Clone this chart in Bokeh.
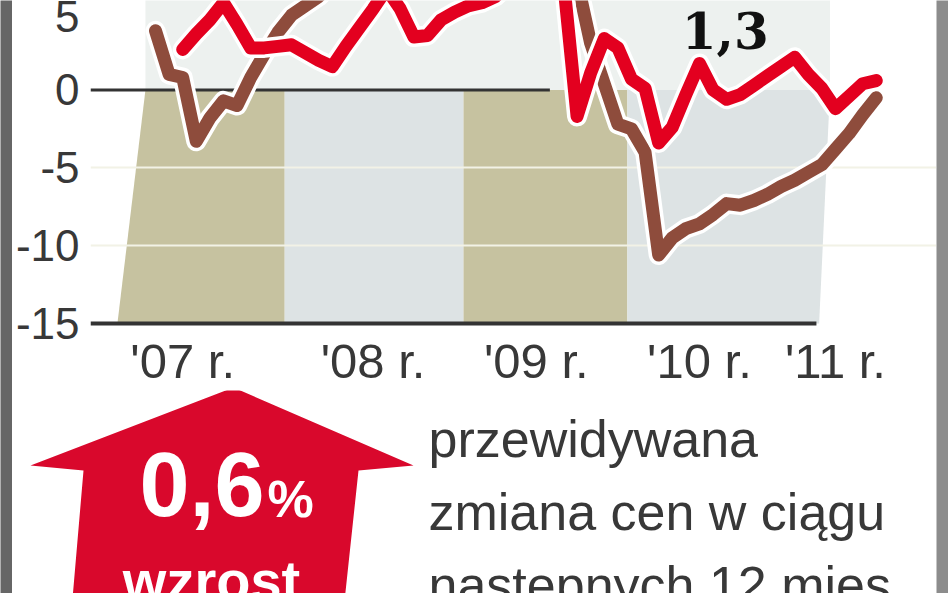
from bokeh.plotting import figure
from bokeh.models import Range1d, FixedTicker
from bokeh.layouts import column, row
from bokeh.embed import file_html
from bokeh.resources import INLINE
from bokeh.core.properties import value

NAN = float("nan")

# ---------------- data ----------------
months = list(range(54))  # monthly index, Jan 2007 = 0
series_brown = [3.8, 1.0, 0.8, -3.3, -1.8, -0.7, -1.0, 0.8, 2.3, 3.7, 4.8, 5.4, 6.0, 6.8,
                7.5, 8.0, 9.0, 8.5, 9.5, 10.0, 9.0, 10.5, 11.0, 10.0, 9.5, 10.0, 11.0, 10.5, 10.0, 9.5,
                9.0, 7.0, 3.0, 0.4, -2.2, -2.5, -4.0, -10.6, -9.5, -8.9, -8.6, -8.0, -7.3, -7.4,
                -7.1, -6.7, -6.2, -5.8, -5.3, -4.8, -3.8, -2.8, -1.6, -0.5]
series_red = [NAN, NAN, 2.6, 3.6, 4.5, 5.6, 4.2, 2.7, 2.7, 2.8, 2.9, 2.4, 1.9, 1.5,
              2.8, 4.0, 5.2, 6.5, 5.2, 3.4, 3.5, 4.5, 5.0, 5.4, 5.6, 6.0, 6.8, 7.5, 8.0, 8.5,
              7.0, -1.7, 1.1, 3.3, 2.7, 0.7, 0.1, -3.4, -2.4, -0.3, 1.7, 0.0, -0.6, -0.3,
              0.3, 0.9, 1.5, 2.1, 1.0, 0.1, -1.2, -0.4, 0.4, 0.6]
y_ticks = [-15, -10, -5, 0, 5]
y_tick_labels = ["-15", "-10", "-5", "0", "5"]
y_grid = [-10, -5]
x_tick_pos = [2, 16, 28, 40, 50]
x_tick_labels = ["'07 r.", "'08 r.", "'09 r.", "'10 r.", "'11 r."]
last_label = "1,3"
forecast_value = "0,6"
forecast_unit = "%"
forecast_word = "wzrost"
caption_lines = ["przewidywana", "zmiana cen w ciągu", "następnych 12 mies."]

# year columns of the background (bottom edge / top edge, in months)
col_left_bottom = [-2.8, 9.5, 22.65, 34.7]
col_left_top = [-0.74, 9.5, 22.65, 34.7]
col_right_bottom = [9.5, 22.65, 34.7, 48.8]
col_right_top = [9.5, 22.65, 34.7, 49.6]

KHAKI = "#c6c2a0"
LIGHT = "#dde3e4"
RED = "#e3001f"
BROWN = "#8e4c3c"
TEXT = "#383838"
SANS = "Liberation Sans"

# ---------------- top chart ----------------
X0, X1 = -4.78, 57.43
p1 = figure(width=924, height=390, x_range=Range1d(X0, X1), y_range=Range1d(-15.32, 5.745),
            output_backend="svg", toolbar_location=None,
            min_border_left=78, min_border_right=0, min_border_top=0, min_border_bottom=60,
            background_fill_color="white", border_fill_color="white", outline_line_color=None)
p1.frame_align = False
p1.xgrid.visible = False
p1.ygrid.visible = False

p1.yaxis.ticker = FixedTicker(ticks=y_ticks)
p1.yaxis.major_label_overrides = dict(zip(y_ticks, y_tick_labels))
p1.yaxis.axis_line_color = None
p1.yaxis.major_tick_line_color = None
p1.yaxis.minor_tick_line_color = None
p1.yaxis.major_tick_out = 0
p1.yaxis.major_tick_in = 0
p1.yaxis.major_label_standoff = 11
p1.yaxis.major_label_text_font = SANS
p1.yaxis.major_label_text_font_size = "44px"
p1.yaxis.major_label_text_color = TEXT

p1.xaxis.ticker = FixedTicker(ticks=x_tick_pos)
p1.xaxis.major_label_overrides = dict(zip(x_tick_pos, x_tick_labels))
p1.xaxis.axis_line_color = None
p1.xaxis.major_tick_line_color = None
p1.xaxis.minor_tick_line_color = None
p1.xaxis.major_tick_out = 0
p1.xaxis.major_tick_in = 0
p1.xaxis.major_label_standoff = 5
p1.xaxis.major_label_text_font = SANS
p1.xaxis.major_label_text_font_size = "49px"
p1.xaxis.major_label_text_color = TEXT

# light tint above zero
p1.quad(left=[col_left_top[0]], right=[col_right_top[-1]], bottom=[0], top=[7],
        fill_color="#edf1ef", line_color=None)
# year columns
p1.patches(xs=[[lb, lt, rt, rb] for lb, lt, rt, rb in
               zip(col_left_bottom, col_left_top, col_right_top, col_right_bottom)],
           ys=[[-15, 0, 0, -15]] * 4,
           fill_color=[KHAKI, LIGHT, KHAKI, LIGHT], line_color=None)
# gridlines
p1.hspan(y=y_grid, line_color="#f2f2e6", line_width=2)
# zero line and baseline
p1.segment(x0=[X0], x1=[29.0], y0=[0], y1=[0], line_color="#333333", line_width=3)
p1.segment(x0=[X0], x1=[48.6], y0=[-15], y1=[-15], line_color="#333333", line_width=4)

# series lines with white halo
p1.line(months, series_brown, line_color="white", line_width=20, line_join="round", line_cap="round")
p1.line(months, series_brown, line_color=BROWN, line_width=13, line_join="round", line_cap="round")
p1.line(months, series_red, line_color="white", line_width=20, line_join="round", line_cap="round")
p1.line(months, series_red, line_color=RED, line_width=13, line_join="round", line_cap="round")

p1.text(x=[41.9], y=[3.85], text=[last_label], text_font=value("DejaVu Serif"),
        text_font_style="bold", text_font_size="50px", text_color="#111111",
        text_align="center", text_baseline="middle")

# ---------------- bottom infographic ----------------
p2 = figure(width=924, height=203, x_range=Range1d(12, 936), y_range=Range1d(593, 390),
            output_backend="svg", toolbar_location=None, min_border=0,
            x_axis_type=None, y_axis_type=None,
            background_fill_color="white", border_fill_color="white", outline_line_color=None)
p2.frame_align = False
p2.xgrid.visible = False
p2.ygrid.visible = False

arrow_x = [233, 413, 358, 343, 71, 83, 30]
arrow_y = [387, 465, 470, 610, 610, 470, 465]
p2.patch(arrow_x, arrow_y, fill_color="#d9082c", line_color=None)

p2.text(x=[264], y=[484], text=[forecast_value], text_font=value(SANS), text_font_style="bold",
        text_font_size="90px", text_color="white", text_align="right", text_baseline="middle")
p2.text(x=[267], y=[498], text=[forecast_unit], text_font=value(SANS), text_font_style="bold",
        text_font_size="52px", text_color="white", text_align="left", text_baseline="middle")
p2.text(x=[211], y=[580], text=[forecast_word], text_font=value(SANS), text_font_style="bold",
        text_font_size="56px", text_color="white", text_align="center", text_baseline="middle")

p2.text(x=[428] * 3, y=[438, 511, 584], text=caption_lines, text_font=value(SANS),
        text_font_size="52px", text_color=TEXT, text_align="left", text_baseline="middle")

# ---------------- side frame strips ----------------
def strip(color):
    s = figure(width=12, height=593, output_backend="svg", toolbar_location=None, min_border=0,
               x_axis_type=None, y_axis_type=None, outline_line_color=None,
               background_fill_color=color, border_fill_color=color)
    s.frame_align = False
    s.xgrid.visible = False
    s.ygrid.visible = False
    return s

layout = row(strip("#666666"), column(p1, p2, spacing=0), strip("#8c8c8c"), spacing=0)
open("out.html", "w").write(file_html(layout, INLINE))
